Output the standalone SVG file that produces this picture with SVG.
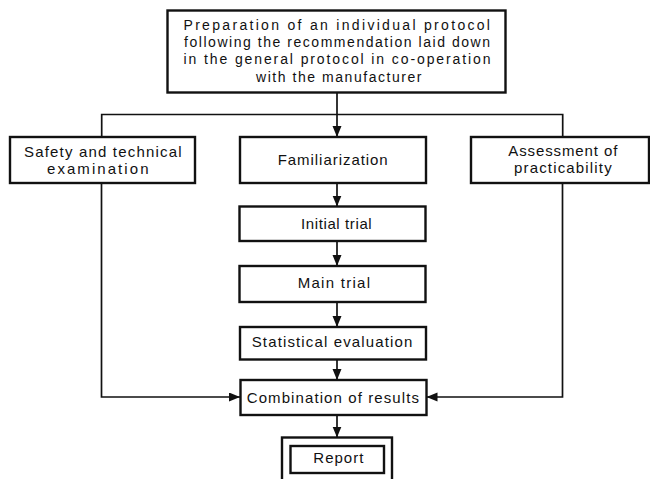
<svg xmlns="http://www.w3.org/2000/svg" width="650" height="479" viewBox="0 0 650 479">
<style>
.box{fill:#fff;stroke:#111;stroke-width:2.4}
.ln{fill:none;stroke:#111;stroke-width:1.7}
.t{font-family:"Liberation Sans",Arial,sans-serif;font-size:15px;fill:#111}
.s{font-size:14px}
</style>
<defs>
<marker id="ah" markerUnits="userSpaceOnUse" markerWidth="12" markerHeight="10" refX="11" refY="4.5" orient="auto">
<path d="M0,0 L11,4.5 L0,9 Z" fill="#111"/>
</marker>
</defs>
<rect width="650" height="479" fill="#fff"/>
<g id="connectors">
<line class="ln" x1="337" y1="93" x2="337" y2="137" marker-end="url(#ah)"/>
<path class="ln" d="M101.7,137 V114.5 H562.7 V137"/>
<line class="ln" x1="337" y1="183" x2="337" y2="206.5" marker-end="url(#ah)"/>
<line class="ln" x1="337" y1="241" x2="337" y2="266" marker-end="url(#ah)"/>
<line class="ln" x1="337" y1="302" x2="337" y2="327" marker-end="url(#ah)"/>
<line class="ln" x1="337" y1="359.5" x2="337" y2="380" marker-end="url(#ah)"/>
<path class="ln" d="M101.5,183 V397 H240" marker-end="url(#ah)"/>
<path class="ln" d="M562.5,183 V397 H426.5" marker-end="url(#ah)"/>
<line class="ln" x1="337" y1="415" x2="337" y2="437.5" marker-end="url(#ah)"/>
</g>
<g id="protocol">
<rect class="box" x="167.5" y="10.5" width="338" height="82"/>
<text class="t s" x="183.5" y="30" textLength="306.5" lengthAdjust="spacing">Preparation of an individual protocol</text>
<text class="t s" x="184" y="47" textLength="306" lengthAdjust="spacing">following the recommendation laid down</text>
<text class="t s" x="183.5" y="64" textLength="307" lengthAdjust="spacing">in the general protocol in co-operation</text>
<text class="t s" x="256" y="81.5" textLength="165.5" lengthAdjust="spacing">with the manufacturer</text>
</g>
<g id="safety">
<rect class="box" x="10" y="137" width="185" height="46"/>
<text class="t" x="24" y="157.3" textLength="157.5" lengthAdjust="spacing">Safety and technical</text>
<text class="t" x="47" y="174" textLength="101.5" lengthAdjust="spacing">examination</text>
</g>
<g id="familiarization">
<rect class="box" x="240" y="137" width="186" height="46"/>
<text class="t" x="277.7" y="165.3" textLength="110" lengthAdjust="spacing">Familiarization</text>
</g>
<g id="assessment">
<rect class="box" x="471" y="137" width="178" height="46"/>
<text class="t" x="508.3" y="155.5" textLength="109" lengthAdjust="spacing">Assessment of</text>
<text class="t" x="514" y="172.7" textLength="97.7" lengthAdjust="spacing">practicability</text>
</g>
<g id="initial">
<rect class="box" x="239.5" y="206.5" width="186" height="34.5"/>
<text class="t" x="301" y="228.5" textLength="70.7" lengthAdjust="spacing">Initial trial</text>
</g>
<g id="main">
<rect class="box" x="239.5" y="266" width="186" height="36"/>
<text class="t" x="297.7" y="288.3" textLength="72.3" lengthAdjust="spacing">Main trial</text>
</g>
<g id="statistical">
<rect class="box" x="240" y="327" width="186" height="32.5"/>
<text class="t" x="251.7" y="347" textLength="160.7" lengthAdjust="spacing">Statistical evaluation</text>
</g>
<g id="combination">
<rect class="box" x="240.5" y="380" width="186" height="35"/>
<text class="t" x="246.7" y="403" textLength="172.3" lengthAdjust="spacing">Combination of results</text>
</g>
<g id="report">
<rect class="box" x="282" y="437.5" width="110" height="55"/>
<rect class="box" x="290.5" y="446" width="93.5" height="27"/>
<text class="t" x="313.3" y="463" textLength="50" lengthAdjust="spacing">Report</text>
</g>
</svg>
